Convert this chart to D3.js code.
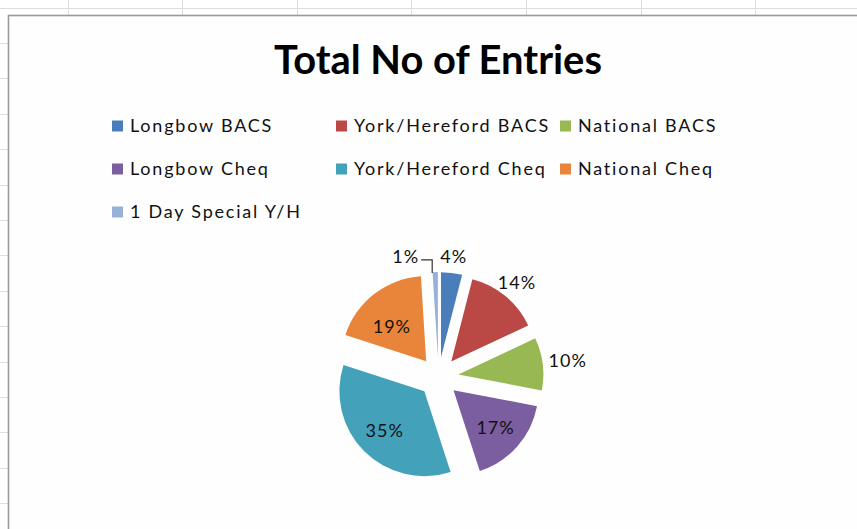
<!DOCTYPE html>
<html>
<head>
<meta charset="utf-8">
<script src="https://cdn.jsdelivr.net/npm/d3@7"></script>
<style>
  html, body { margin: 0; padding: 0; background: #ffffff; overflow: hidden; }
  svg { display: block; }
  text { font-family: Lato, "Open Sans", "DejaVu Sans", sans-serif; }
</style>
</head>
<body>
<svg id="chart" width="857" height="529"></svg>
<script>
// ---- data ----
const title = "Total No of Entries";
const categories = ["Longbow BACS", "York/Hereford BACS", "National BACS",
                    "Longbow Cheq", "York/Hereford Cheq", "National Cheq",
                    "1 Day Special Y/H"];
const values = [4, 14, 10, 17, 35, 19, 1];
const colors = ["#4A7EBB", "#BA4845", "#97B852", "#7B5E9F", "#43A2BA", "#E8853A", "#97B1D8"];

// ---- layout ----
const W = 857, H = 529;
const svg = d3.select("#chart");

// spreadsheet background grid
const grid = svg.append("g").attr("stroke", "#dedede").attr("stroke-width", 1);
d3.range(7.6, H, 35.4).forEach(y => {
  grid.append("line").attr("x1", 0).attr("x2", y < 15 ? W : 8).attr("y1", Math.round(y) + 0.5).attr("y2", Math.round(y) + 0.5);
});
d3.range(67.6, W, 114.6).forEach(x => {
  grid.append("line").attr("x1", Math.round(x) + 0.5).attr("x2", Math.round(x) + 0.5).attr("y1", 0).attr("y2", 15);
});

// chart area
svg.append("rect").attr("x", 8.5).attr("y", 15.5).attr("width", W + 20).attr("height", H + 20)
  .attr("fill", "#fefefe").attr("stroke", "#9a9a9a").attr("stroke-width", 1.6);

// title
const t = svg.append("text").attr("x", 438).attr("y", 74).attr("text-anchor", "middle")
  .attr("font-weight", "bold").attr("font-size", 30).attr("fill", "#000").text(title);
const tw = t.node().getComputedTextLength();
t.attr("font-size", 30 * 328 / tw);

// legend
const legendLeft = 112, colW = 224, rowY = [126, 169, 212], sw = 11;
const legend = svg.append("g");
const items = legend.selectAll("g").data(categories).join("g")
  .attr("transform", (d, i) => `translate(${legendLeft + (i % 3) * colW},${rowY[Math.floor(i / 3)]})`);
items.append("rect").attr("x", 0).attr("y", -sw / 2).attr("width", sw).attr("height", sw)
  .attr("fill", (d, i) => colors[i]);
const ltxt = items.append("text").attr("x", 18).attr("dy", "0.36em")
  .attr("font-size", 18).attr("fill", "#111").text(d => d);
// spread text a little to match the wide ClearType look of the original
const refW = ltxt.filter((d, i) => i === 1).node().getComputedTextLength();
const ls = (196 - refW) / categories[1].length;
ltxt.attr("letter-spacing", ls);

// pie
const cx = 438.5, cy = 377, r = 85, explode = 20;
const pie = d3.pie().sort(null).value(d => d).startAngle(0).endAngle(2 * Math.PI);
const arcs = pie(values);
const arc = d3.arc().innerRadius(0).outerRadius(r);
const g = svg.append("g").attr("transform", `translate(${cx},${cy})`);
const dir = a => [Math.sin(a), -Math.cos(a)];

g.selectAll("path").data(arcs).join("path")
  .attr("d", arc)
  .attr("fill", (d, i) => colors[i])
  .attr("transform", d => {
    const m = (d.startAngle + d.endAngle) / 2, [dx, dy] = dir(m);
    return `translate(${dx * explode},${dy * explode})`;
  });

const total = d3.sum(values);
const fmt = v => Math.round(v / total * 100) + "%";
const labelSize = 18;
const labels = svg.append("g").attr("transform", `translate(${cx},${cy})`);

let fourPctPos = null;
arcs.forEach((d, i) => {
  const m = (d.startAngle + d.endAngle) / 2, [dx, dy] = dir(m);
  const pct = d.value / total;
  if (pct >= 0.15) {
    const rr = explode + r * 0.66;
    labels.append("text").attr("x", dx * rr).attr("y", dy * rr + (m > 5 ? 10 : 0))
      .attr("text-anchor", "middle").attr("dy", "0.36em")
      .attr("font-size", labelSize).attr("letter-spacing", 1).attr("fill", "#111")
      .text(fmt(d.value));
  } else if (pct >= 0.02) {
    const txt = labels.append("text").attr("text-anchor", "middle").attr("dy", "0.36em")
      .attr("font-size", labelSize).attr("letter-spacing", 1).attr("fill", "#111")
      .text(fmt(d.value));
    const bw = txt.node().getComputedTextLength() / 2, bh = 7;
    const half = Math.min(bw / Math.max(Math.abs(dx), 1e-6), bh / Math.max(Math.abs(dy), 1e-6));
    const rr = explode + r + 9 + half;
    txt.attr("x", dx * rr - (i === 2 ? 3 : 0)).attr("y", dy * rr);
    if (i === 0) fourPctPos = [dx * rr, dy * rr, bw];
  }
});

// small slice with leader line
arcs.forEach((d, i) => {
  const pct = d.value / total;
  if (pct < 0.02) {
    const m = (d.startAngle + d.endAngle) / 2, [dx, dy] = dir(m);
    const ax = dx * (explode + r) - 3, ay = dy * (explode + r);
    const ly = fourPctPos ? fourPctPos[1] : ay - 14;
    const lineY = ly + 3;
    const endX = ax - 11;
    labels.append("path")
      .attr("d", `M${ax},${ay + 1}V${lineY}H${endX}`)
      .attr("fill", "none").attr("stroke", "#333").attr("stroke-width", 1.2);
    labels.append("text").attr("x", endX - 2).attr("y", ly).attr("dy", "0.36em")
      .attr("text-anchor", "end").attr("font-size", labelSize).attr("letter-spacing", 1)
      .attr("fill", "#111").text(fmt(d.value));
  }
});
</script>
</body>
</html>
